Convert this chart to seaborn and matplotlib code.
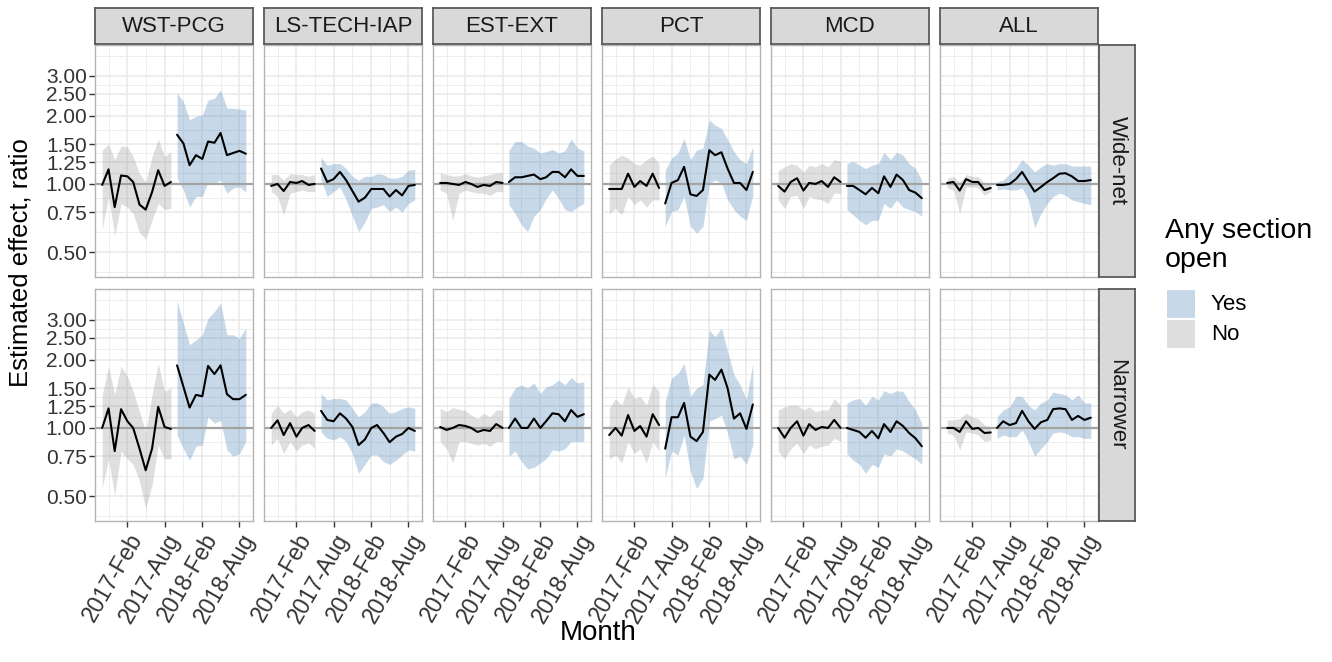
import matplotlib
matplotlib.use("Agg")
import matplotlib.dates as mdates
import matplotlib.pyplot as plt
import numpy as np
import pandas as pd
import seaborn as sns
from matplotlib.patches import Rectangle
from matplotlib.ticker import FixedLocator, FuncFormatter, NullFormatter

# facets
sections = ["WST-PCG", "LS-TECH-IAP", "EST-EXT", "PCT", "MCD", "ALL"]
specs = ["Wide-net", "Narrower"]
months = pd.date_range("2016-10-01", periods=24, freq="MS")
# months before any section opened (rest are "Yes")
closed_months = [12, 8, 11, 9, 11, 8]

y_breaks = [0.50, 0.75, 1.00, 1.25, 1.50, 2.00, 2.50, 3.00]
x_breaks = ["2017-02-01", "2017-08-01", "2018-02-01", "2018-08-01"]

# ---- Wide-net ----
wst_wide_est = [0.99, 1.16, 0.79, 1.09, 1.08, 1.02, 0.81, 0.77, 0.92, 1.15, 0.98, 1.02,
                1.65, 1.51, 1.21, 1.34, 1.29, 1.54, 1.52, 1.68, 1.34, 1.37, 1.40, 1.36]
wst_wide_lo = [0.63, 0.88, 0.59, 0.82, 0.79, 0.74, 0.61, 0.57, 0.69, 0.82, 0.77, 0.78,
               1.06, 0.94, 0.79, 0.88, 0.88, 1.02, 1.01, 1.04, 0.91, 0.96, 0.97, 0.92]
wst_wide_hi = [1.41, 1.50, 1.28, 1.47, 1.46, 1.32, 1.11, 1.02, 1.32, 1.58, 1.32, 1.39,
               2.52, 2.31, 1.92, 1.99, 2.02, 2.35, 2.39, 2.60, 2.16, 2.16, 2.14, 2.12]

ls_wide_est = [0.98, 1.00, 0.93, 1.02, 1.01, 1.03, 0.99, 1.00,
               1.17, 1.02, 1.05, 1.13, 1.04, 0.93, 0.835, 0.87, 0.95, 0.95, 0.95, 0.88, 0.94, 0.89, 0.98, 0.99]
ls_wide_lo = [0.925, 0.88, 0.73, 0.91, 0.925, 0.94, 0.925, 0.925,
              1.04, 0.88, 0.925, 0.97, 0.85, 0.72, 0.615, 0.68, 0.78, 0.79, 0.81, 0.755, 0.79, 0.75, 0.82, 0.85]
ls_wide_hi = [1.10, 1.10, 1.04, 1.11, 1.10, 1.10, 1.08, 1.10,
              1.31, 1.21, 1.23, 1.23, 1.17, 1.08, 1.04, 1.08, 1.08, 1.11, 1.10, 1.06, 1.06, 1.08, 1.15, 1.16]

est_wide_est = [1.01, 1.01, 1.00, 0.99, 1.02, 1.00, 0.97, 0.99, 0.98, 1.02, 1.01,
                1.02, 1.07, 1.07, 1.085, 1.10, 1.05, 1.07, 1.13, 1.13, 1.07, 1.16, 1.085, 1.085]
est_wide_lo = [0.94, 0.91, 0.69, 0.91, 0.94, 0.925, 0.91, 0.91, 0.89, 0.925, 0.925,
               0.81, 0.74, 0.66, 0.615, 0.72, 0.77, 0.86, 0.94, 0.86, 0.77, 0.755, 0.79, 0.82]
est_wide_hi = [1.12, 1.10, 1.085, 1.085, 1.11, 1.085, 1.07, 1.085, 1.10, 1.12, 1.12,
               1.41, 1.54, 1.54, 1.47, 1.44, 1.37, 1.39, 1.42, 1.37, 1.40, 1.58, 1.44, 1.40]

pct_wide_est = [0.95, 0.95, 0.95, 1.11, 0.97, 1.03, 0.98, 1.11, 0.96,
                0.82, 1.01, 1.04, 1.19, 0.90, 0.885, 0.94, 1.41, 1.34, 1.38, 1.17, 1.01, 1.01, 0.94, 1.13]
pct_wide_lo = [0.74, 0.78, 0.73, 0.88, 0.81, 0.85, 0.79, 0.85, 0.85,
               0.65, 0.755, 0.77, 0.88, 0.65, 0.605, 0.65, 1.01, 1.04, 1.01, 0.85, 0.77, 0.72, 0.69, 0.89]
pct_wide_hi = [1.21, 1.29, 1.34, 1.30, 1.23, 1.21, 1.28, 1.33, 1.23,
               1.15, 1.30, 1.37, 1.59, 1.28, 1.41, 1.44, 1.92, 1.82, 1.76, 1.57, 1.39, 1.28, 1.23, 1.46]

mcd_wide_est = [0.98, 0.925, 1.02, 1.06, 0.935, 1.01, 1.00, 1.03, 0.97, 1.07, 1.02,
                0.98, 0.98, 0.94, 0.90, 0.96, 0.91, 1.08, 0.97, 1.10, 1.04, 0.94, 0.915, 0.865]
mcd_wide_lo = [0.85, 0.78, 0.88, 0.89, 0.78, 0.88, 0.86, 0.85, 0.82, 0.91, 0.91,
               0.77, 0.73, 0.69, 0.66, 0.69, 0.69, 0.82, 0.78, 0.85, 0.79, 0.77, 0.755, 0.72]
mcd_wide_hi = [1.15, 1.19, 1.23, 1.21, 1.13, 1.21, 1.19, 1.23, 1.19, 1.28, 1.26,
               1.23, 1.26, 1.21, 1.17, 1.21, 1.23, 1.38, 1.28, 1.38, 1.34, 1.23, 1.17, 1.04]

all_wide_est = [1.01, 1.02, 0.935, 1.05, 1.02, 1.02, 0.94, 0.96,
                0.99, 0.99, 1.00, 1.05, 1.13, 1.02, 0.925, 0.97, 1.02, 1.06, 1.11, 1.115, 1.08, 1.03, 1.03, 1.04]
all_wide_lo = [0.96, 0.94, 0.74, 0.97, 0.97, 0.96, 0.89, 0.925,
               0.94, 0.95, 0.94, 0.94, 0.96, 0.85, 0.64, 0.74, 0.82, 0.88, 0.91, 0.89, 0.85, 0.835, 0.82, 0.81]
all_wide_hi = [1.06, 1.08, 1.02, 1.10, 1.08, 1.08, 1.01, 1.01,
               1.02, 1.04, 1.11, 1.17, 1.28, 1.21, 1.13, 1.19, 1.23, 1.21, 1.23, 1.23, 1.20, 1.20, 1.20, 1.20]

# ---- Narrower ----
wst_narrow_est = [1.00, 1.22, 0.79, 1.21, 1.07, 1.00, 0.81, 0.65, 0.81, 1.24, 1.01, 0.99,
                  1.89, 1.52, 1.23, 1.40, 1.38, 1.88, 1.73, 1.89, 1.41, 1.34, 1.34, 1.40]
wst_narrow_lo = [0.54, 0.73, 0.505, 0.79, 0.73, 0.69, 0.58, 0.44, 0.56, 0.84, 0.73, 0.73,
                 0.93, 0.81, 0.72, 0.83, 0.84, 1.12, 1.05, 1.08, 0.80, 0.75, 0.77, 0.87]
wst_narrow_hi = [1.40, 1.87, 1.40, 1.87, 1.69, 1.45, 1.18, 0.96, 1.40, 1.93, 1.45, 1.50,
                 3.64, 2.90, 2.33, 2.45, 2.58, 3.05, 3.27, 3.56, 2.58, 2.58, 2.49, 2.76]

ls_narrow_est = [1.00, 1.08, 0.93, 1.05, 0.915, 1.00, 1.03, 0.97,
                 1.19, 1.085, 1.07, 1.16, 1.10, 1.01, 0.84, 0.89, 1.00, 1.03, 0.95, 0.865, 0.915, 0.94, 1.00, 0.97]
ls_narrow_lo = [0.84, 0.90, 0.77, 0.87, 0.79, 0.84, 0.86, 0.81,
                0.96, 0.90, 0.885, 0.915, 0.87, 0.77, 0.63, 0.69, 0.76, 0.76, 0.71, 0.69, 0.72, 0.76, 0.80, 0.79]
ls_narrow_hi = [1.16, 1.26, 1.16, 1.21, 1.12, 1.18, 1.20, 1.16,
                1.42, 1.33, 1.35, 1.35, 1.33, 1.22, 1.12, 1.18, 1.29, 1.29, 1.24, 1.16, 1.18, 1.22, 1.24, 1.22]

est_narrow_est = [1.01, 0.98, 1.00, 1.03, 1.02, 1.00, 0.96, 0.98, 0.97, 1.04, 1.00,
                  1.00, 1.10, 1.00, 1.00, 1.10, 1.00, 1.07, 1.16, 1.15, 1.07, 1.20, 1.12, 1.15]
est_narrow_lo = [0.87, 0.81, 0.70, 0.87, 0.87, 0.855, 0.84, 0.855, 0.83, 0.87, 0.87,
                 0.75, 0.79, 0.71, 0.66, 0.67, 0.70, 0.73, 0.80, 0.79, 0.81, 0.87, 0.87, 0.87]
est_narrow_hi = [1.22, 1.18, 1.23, 1.21, 1.19, 1.14, 1.10, 1.16, 1.12, 1.20, 1.20,
                 1.35, 1.50, 1.55, 1.50, 1.58, 1.42, 1.52, 1.55, 1.63, 1.55, 1.67, 1.58, 1.60]

pct_narrow_est = [0.93, 1.00, 0.925, 1.14, 0.97, 1.02, 0.915, 1.15, 1.03,
                  0.81, 1.115, 1.115, 1.29, 0.915, 0.875, 0.96, 1.72, 1.63, 1.81, 1.50, 1.10, 1.16, 0.99, 1.27]
pct_narrow_lo = [0.73, 0.76, 0.70, 0.87, 0.77, 0.81, 0.70, 0.87, 0.79,
                 0.60, 0.79, 0.76, 0.93, 0.64, 0.54, 0.60, 1.07, 1.10, 1.14, 0.95, 0.73, 0.75, 0.69, 0.84]
pct_narrow_hi = [1.22, 1.35, 1.26, 1.52, 1.35, 1.38, 1.26, 1.55, 1.45,
                 1.31, 1.66, 1.74, 1.93, 1.38, 1.50, 1.55, 2.71, 2.53, 2.76, 2.18, 1.72, 1.55, 1.33, 1.93]

mcd_narrow_est = [1.00, 0.905, 1.00, 1.07, 0.925, 1.04, 0.98, 1.01, 1.00, 1.085, 1.00,
                  1.00, 0.98, 0.96, 0.905, 0.97, 0.90, 1.04, 0.96, 1.07, 1.02, 0.95, 0.90, 0.83]
mcd_narrow_lo = [0.79, 0.73, 0.81, 0.855, 0.77, 0.84, 0.81, 0.83, 0.84, 0.90, 0.87,
                 0.77, 0.72, 0.69, 0.63, 0.69, 0.67, 0.77, 0.75, 0.81, 0.79, 0.76, 0.73, 0.69]
mcd_narrow_hi = [1.20, 1.24, 1.26, 1.26, 1.20, 1.24, 1.18, 1.20, 1.20, 1.35, 1.26,
                 1.29, 1.33, 1.35, 1.26, 1.38, 1.33, 1.46, 1.42, 1.46, 1.45, 1.31, 1.20, 1.05]

all_narrow_est = [1.00, 1.00, 0.96, 1.07, 0.99, 1.00, 0.95, 0.955,
                  1.00, 1.07, 1.03, 1.05, 1.19, 1.07, 0.99, 1.06, 1.085, 1.21, 1.22, 1.21, 1.085, 1.13, 1.085, 1.11]
all_narrow_lo = [0.95, 0.93, 0.80, 0.96, 0.95, 0.93, 0.87, 0.885,
                 0.90, 0.93, 0.915, 0.915, 0.98, 0.87, 0.75, 0.81, 0.87, 0.95, 0.96, 0.95, 0.915, 0.915, 0.90, 0.90]
all_narrow_hi = [1.085, 1.085, 1.10, 1.16, 1.12, 1.10, 1.03, 1.01,
                 1.12, 1.20, 1.24, 1.38, 1.38, 1.26, 1.20, 1.29, 1.33, 1.44, 1.42, 1.40, 1.33, 1.40, 1.29, 1.29]

series = {
    ("Wide-net", "WST-PCG"): (wst_wide_est, wst_wide_lo, wst_wide_hi),
    ("Wide-net", "LS-TECH-IAP"): (ls_wide_est, ls_wide_lo, ls_wide_hi),
    ("Wide-net", "EST-EXT"): (est_wide_est, est_wide_lo, est_wide_hi),
    ("Wide-net", "PCT"): (pct_wide_est, pct_wide_lo, pct_wide_hi),
    ("Wide-net", "MCD"): (mcd_wide_est, mcd_wide_lo, mcd_wide_hi),
    ("Wide-net", "ALL"): (all_wide_est, all_wide_lo, all_wide_hi),
    ("Narrower", "WST-PCG"): (wst_narrow_est, wst_narrow_lo, wst_narrow_hi),
    ("Narrower", "LS-TECH-IAP"): (ls_narrow_est, ls_narrow_lo, ls_narrow_hi),
    ("Narrower", "EST-EXT"): (est_narrow_est, est_narrow_lo, est_narrow_hi),
    ("Narrower", "PCT"): (pct_narrow_est, pct_narrow_lo, pct_narrow_hi),
    ("Narrower", "MCD"): (mcd_narrow_est, mcd_narrow_lo, mcd_narrow_hi),
    ("Narrower", "ALL"): (all_narrow_est, all_narrow_lo, all_narrow_hi),
}

records = []
for (spec, sec), (est, lo, hi) in series.items():
    n_closed = closed_months[sections.index(sec)]
    for i, m in enumerate(months):
        records.append({
            "spec": spec, "section": sec, "month": m,
            "est": est[i], "lo": lo[i], "hi": hi[i],
            "open": "No" if i < n_closed else "Yes",
        })
df = pd.DataFrame(records)

sns.set_theme(style="white")
plt.rcParams["font.family"] = ["Liberation Sans", "DejaVu Sans"]

W, H = 1332, 662
fig = plt.figure(figsize=(W / 100, H / 100), dpi=100)


def px_axes(x0, y0, x1, y1):
    return fig.add_axes([x0 / W, 1 - y1 / H, (x1 - x0) / W, (y1 - y0) / H])


fills = {"Yes": ("steelblue", 0.3), "No": ("grey", 0.25)}
text_col = "#333333"

col_left = [95, 264, 433, 602, 771, 940]
panel_w = 158
row_span = [(45, 277), (289, 521)]

# limits & grid positions (ggplot-like: 5% expansion, minor breaks at midpoints)
xnum = mdates.date2num(months)
xpad = 0.05 * (xnum[-1] - xnum[0])
xlim = (xnum[0] - xpad, xnum[-1] + xpad)
xmaj = mdates.date2num(pd.to_datetime(x_breaks))
xstep = xmaj[1] - xmaj[0]
xext = np.concatenate([[xmaj[0] - xstep], xmaj, [xmaj[-1] + xstep]])
xmin = (xext[:-1] + xext[1:]) / 2
lyb = np.log(y_breaks)
lstep = lyb[1] - lyb[0]
lext = np.concatenate([[lyb[0] - lstep], lyb, [lyb[-1] + lstep]])
ymin_grid = np.exp((lext[:-1] + lext[1:]) / 2)
ylim = (0.388, 4.11)

for r, spec in enumerate(specs):
    y0, y1 = row_span[r]
    for c, sec in enumerate(sections):
        ax = px_axes(col_left[c], y0, col_left[c] + panel_w, y1)
        sub = df[(df["spec"] == spec) & (df["section"] == sec)]
        ax.set_yscale("log")
        for status, grp in sub.groupby("open"):
            colr, alpha = fills[status]
            ax.fill_between(grp["month"], grp["lo"], grp["hi"], color=colr,
                            alpha=alpha, lw=0, zorder=1)
        ax.axhline(1, color="#a3a3a3", lw=1.6, zorder=2)
        sns.lineplot(data=sub, x="month", y="est", units="open", estimator=None,
                     color="black", lw=1.5, ax=ax, legend=False, zorder=3)

        ax.set_xlim(xlim)
        ax.set_ylim(ylim)
        ax.xaxis.set_major_locator(FixedLocator(xmaj))
        ax.xaxis.set_minor_locator(FixedLocator(xmin))
        ax.xaxis.set_major_formatter(mdates.DateFormatter("%Y-%b"))
        ax.xaxis.set_minor_formatter(NullFormatter())
        ax.yaxis.set_major_locator(FixedLocator(y_breaks))
        ax.yaxis.set_minor_locator(FixedLocator(ymin_grid))
        ax.yaxis.set_major_formatter(FuncFormatter(lambda v, _: f"{v:.2f}"))
        ax.yaxis.set_minor_formatter(NullFormatter())

        ax.set_axisbelow(True)
        ax.grid(True, which="major", color="#ebebeb", lw=1.2)
        ax.grid(True, which="minor", color="#ebebeb", lw=0.6)
        ax.set_xlabel("")
        ax.set_ylabel("")
        for sp in ax.spines.values():
            sp.set_color("#b3b3b3")
            sp.set_linewidth(1.0)

        ax.tick_params(which="minor", length=0)
        ax.tick_params(which="major", length=4, width=1, color=text_col,
                       labelsize=15, labelcolor=text_col, pad=2,
                       bottom=(r == 1), labelbottom=(r == 1),
                       left=(c == 0), labelleft=(c == 0))
        if r == 1:
            plt.setp(ax.get_xticklabels(), rotation=60, ha="right", va="top",
                     rotation_mode="anchor", fontsize=16.5)

        # column strip
        if r == 0:
            sax = px_axes(col_left[c], 8, col_left[c] + panel_w, 44)
            sax.set_facecolor("#d9d9d9")
            sax.set_xticks([])
            sax.set_yticks([])
            for sp in sax.spines.values():
                sp.set_color("#555555")
            sax.text(0.5, 0.5, sec, ha="center", va="center", fontsize=16,
                     color="#1a1a1a", transform=sax.transAxes)

    # row strip
    rax = px_axes(1099, y0, 1135, y1)
    rax.set_facecolor("#d9d9d9")
    rax.set_xticks([])
    rax.set_yticks([])
    for sp in rax.spines.values():
        sp.set_color("#555555")
    rax.text(0.5, 0.5, spec, ha="center", va="center", fontsize=16, rotation=-90,
             color="#1a1a1a", transform=rax.transAxes)

fig.text(21 / W, 1 - 263 / H, "Estimated effect, ratio", rotation=90,
         ha="center", va="center", fontsize=18.5, color="black")
fig.text(598 / W, 1 - 633 / H, "Month", ha="center", va="center",
         fontsize=20, color="black")

# legend, drawn by hand to match the ggplot guide layout
fig.text(1165 / W, 1 - 218 / H, "Any section\nopen", ha="left", va="top",
         fontsize=20.5, linespacing=1.15, color="black")
for i, key in enumerate(["Yes", "No"]):
    top = 290 + i * 30
    colr, alpha = fills[key]
    fig.add_artist(Rectangle((1167 / W, 1 - (top + 28) / H), 28 / W, 28 / H,
                             transform=fig.transFigure, facecolor=colr,
                             alpha=alpha, edgecolor="none"))
    fig.text(1211 / W, 1 - (top + 15) / H, key, ha="left", va="center",
             fontsize=16, color="black")

fig.savefig("out.png", dpi=100)
